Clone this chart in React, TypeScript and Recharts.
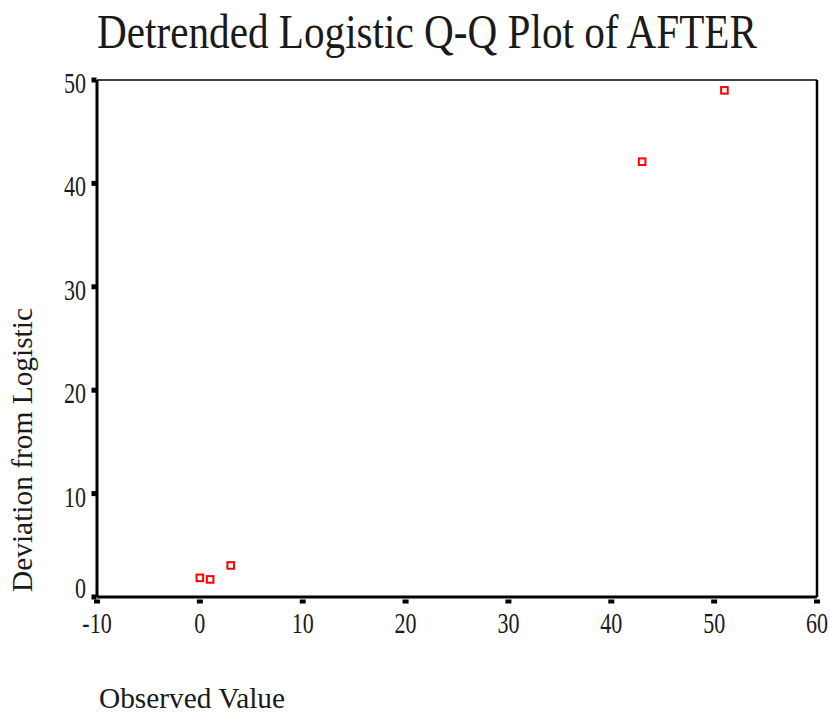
import { ScatterChart, Scatter, XAxis, YAxis, ReferenceLine } from 'recharts';

const observed = [0, 1, 3, 43, 51];
const deviation = [1.85, 1.7, 3.05, 42.1, 49];
const xTicks = [-10, 0, 10, 20, 30, 40, 50, 60];
const yTicks = [0, 10, 20, 30, 40, 50];

const points = observed.map((x, i) => ({ x, y: deviation[i] }));

const FONT = '"Liberation Serif", "Times New Roman", serif';

const XTick = (props: any) => {
  const { x, y, payload } = props;
  return (
    <g>
      <rect x={x - 3} y={y + 2.5} width={6} height={4} fill="#000" />
      <text
        transform={`translate(${x},${y + 36}) scale(0.76,1)`}
        textAnchor="middle"
        fontFamily={FONT}
        fontSize={29}
        fill="#1a1a1a"
      >
        {payload.value}
      </text>
    </g>
  );
};

const YTick = (props: any) => {
  const { x, y, payload } = props;
  const base = payload.value === 0 ? y + 1 : y + 13;
  return (
    <g>
      <rect x={x - 5.5} y={y - 2.5} width={5} height={5} fill="#000" />
      <text
        transform={`translate(${x - 11},${base}) scale(0.76,1)`}
        textAnchor="end"
        fontFamily={FONT}
        fontSize={29}
        fill="#1a1a1a"
      >
        {payload.value}
      </text>
    </g>
  );
};

// hollow red square marker
const SquareDot = (props: any) => {
  const { cx, cy } = props;
  if (cx == null || cy == null) return null;
  return <rect x={cx - 3.3} y={cy - 3.3} width={6.6} height={6.6} fill="#fff" stroke="#ff0000" strokeWidth={2} />;
};

export default function App() {
  return (
    <div style={{ position: 'absolute', left: 0, top: 0, width: 830, height: 715, background: '#fff' }}>
      <ScatterChart width={830} height={715} margin={{ top: 80, right: 13, bottom: 88, left: 37 }}>
        <XAxis
          type="number"
          dataKey="x"
          domain={[-10, 60]}
          ticks={xTicks}
          interval={0}
          height={30}
          tickSize={0}
          tickMargin={0}
          tickLine={false}
          axisLine={{ stroke: '#000', strokeWidth: 3 }}
          tick={<XTick />}
          allowDataOverflow
        />
        <YAxis
          type="number"
          dataKey="y"
          domain={[0, 50]}
          ticks={yTicks}
          interval={0}
          width={60}
          tickSize={0}
          tickMargin={0}
          tickLine={false}
          axisLine={{ stroke: '#000', strokeWidth: 3 }}
          tick={<YTick />}
          allowDataOverflow
        />
        <ReferenceLine y={50} stroke="#000" strokeWidth={1.5} />
        <ReferenceLine x={60} stroke="#000" strokeWidth={2.5} />
        <Scatter data={points} shape={<SquareDot />} isAnimationActive={false} />
      </ScatterChart>
      <svg width={830} height={715} style={{ position: 'absolute', left: 0, top: 0, pointerEvents: 'none' }}>
        <text
          transform="translate(97,48) scale(1,1.2)"
          fontFamily={FONT}
          fontSize={40}
          textLength={660}
          lengthAdjust="spacingAndGlyphs"
          fill="#1a1a1a"
        >
          Detrended Logistic Q-Q Plot of AFTER
        </text>
        <text x={99} y={708} fontFamily={FONT} fontSize={29} textLength={186} lengthAdjust="spacingAndGlyphs" fill="#1a1a1a">
          Observed Value
        </text>
        <text
          transform="translate(32,592) rotate(-90)"
          fontFamily={FONT}
          fontSize={29}
          textLength={284}
          lengthAdjust="spacingAndGlyphs"
          fill="#1a1a1a"
        >
          Deviation from Logistic
        </text>
      </svg>
    </div>
  );
}
